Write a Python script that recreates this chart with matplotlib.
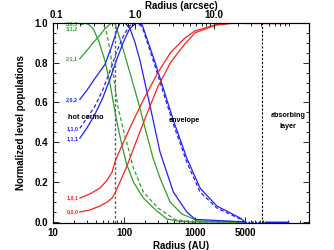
import matplotlib
matplotlib.use("Agg")
import matplotlib.pyplot as plt
import numpy as np
from matplotlib.ticker import FixedLocator, NullFormatter, MultipleLocator

plt.rcParams['font.family'] = ['Liberation Sans', 'DejaVu Sans']
plt.rcParams['font.weight'] = 'bold'

# ---- data (radius in AU, normalized population) ----
g303_r = [24, 30, 37, 44, 54, 64, 75, 83, 93, 109, 136, 187, 289, 400, 600, 1000, 5000]
g303_y = [1.0, 1.0, 0.97, 0.91, 0.81, 0.69, 0.55, 0.47, 0.39, 0.29, 0.20, 0.12, 0.055, 0.015, 0.003, 0.0, 0.0]

g312_r = [24, 40, 46, 52, 57, 64, 72, 82, 97, 109, 136, 187, 300, 400, 520, 1000, 5000]
g312_y = [0.99, 1.0, 1.0, 0.99, 0.95, 0.86, 0.72, 0.58, 0.47, 0.40, 0.27, 0.15, 0.07, 0.04, 0.012, 0.0, 0.0]

g211_r = [24, 30, 37, 44, 54, 67, 75, 93, 128, 168, 198, 256, 321, 444, 650, 1100, 5000]
g211_y = [0.82, 0.86, 0.90, 0.93, 0.97, 1.0, 0.995, 0.89, 0.72, 0.57, 0.47, 0.32, 0.22, 0.10, 0.04, 0.005, 0.0]

b202_r = [24, 30, 39, 54, 67, 79, 88, 103, 122, 143, 168, 233, 321, 494, 762, 1000, 5000]
b202_y = [0.615, 0.66, 0.72, 0.79, 0.88, 0.96, 1.0, 1.0, 0.97, 0.90, 0.81, 0.58, 0.35, 0.15, 0.05, 0.013, 0.0]

b110_r = [24, 30, 39, 50, 64, 80, 100, 120, 150, 180, 274, 494, 762, 1172, 2011, 4270, 5000]
b110_y = [0.47, 0.52, 0.58, 0.66, 0.76, 0.86, 0.94, 0.985, 1.0, 0.98, 0.78, 0.49, 0.30, 0.15, 0.07, 0.015, 0.0]

b111_r = [24, 30, 39, 50, 64, 80, 100, 120, 150, 180, 274, 494, 762, 1172, 2011, 4270, 5000]
b111_y = [0.42, 0.47, 0.54, 0.62, 0.72, 0.82, 0.91, 0.97, 1.0, 0.99, 0.80, 0.51, 0.32, 0.17, 0.08, 0.02, 0.0]

r101_r = [24, 33, 46, 58, 68, 76, 90, 110, 140, 198, 300, 450, 700, 1000, 2000, 4000, 5000]
r101_y = [0.12, 0.14, 0.17, 0.21, 0.25, 0.31, 0.37, 0.44, 0.52, 0.63, 0.75, 0.85, 0.92, 0.96, 0.99, 1.0, 1.0]

r000_r = [24, 33, 46, 58, 68, 76, 90, 110, 140, 198, 300, 450, 700, 1000, 2000, 4000, 5000]
r000_y = [0.05, 0.06, 0.08, 0.10, 0.12, 0.15, 0.21, 0.28, 0.38, 0.52, 0.68, 0.80, 0.89, 0.95, 0.99, 1.0, 1.0]

labels = ["3,0,3", "3,1,2", "2,1,1", "2,0,2", "1,1,0", "1,1,1", "1,0,1", "0,0,0"]
label_y = [0.995, 0.97, 0.82, 0.615, 0.47, 0.42, 0.12, 0.05]

gap_r = [5000, 8800]
layer_r = [9600, 20000]
hot_corino_edge = 75
absorb_edge = 8800

xticks = [10, 100, 1000, 5000]
xticklabels = ["10", "100", "1000", "5000"]
top_ticks = [0.1, 1.0, 10.0]
top_ticklabels = ["0.1", "1.0", "10.0"]
yticks = [0.0, 0.2, 0.4, 0.6, 0.8, 1.0]

GREEN = "#2ca02c"
BLUE = "#1f1fff"
RED = "#ff2020"

curves = [
    (g303_r, g303_y, GREEN, "-"),
    (g312_r, g312_y, GREEN, "--"),
    (g211_r, g211_y, GREEN, "-"),
    (b202_r, b202_y, BLUE, "-"),
    (b110_r, b110_y, BLUE, "--"),
    (b111_r, b111_y, BLUE, "-"),
    (r101_r, r101_y, RED, "-"),
    (r000_r, r000_y, RED, "-"),
]

fig = plt.figure(figsize=(3.34, 2.5), dpi=100)
ax = fig.add_axes([0.158, 0.109, 0.768, 0.800])

for (r, y, c, ls), lab, ly in zip(curves, labels, label_y):
    if ls == "--":
        ax.plot(r, y, color=c, lw=0.9, ls=(0, (3, 2)))
    else:
        ax.plot(r, y, color=c, lw=0.9, ls="-")
    ax.plot(gap_r, [y[-1], y[-1]], color=c, ls=":", lw=0.9)
    ax.plot(layer_r, [y[-1], y[-1]], color=c, ls="-", lw=0.9)
    ax.text(r[0] * 0.95, ly, lab, color=c, fontsize=3.9, fontweight="bold",
            ha="right", va="center")

ax.axvline(hot_corino_edge, color="0.4", ls=(0, (2, 1.5)), lw=1.0)
ax.axvline(absorb_edge, color="black", ls=(0, (2, 1.5)), lw=0.8)

tk = dict(fontsize=5.2, fontweight="bold", ha="center", va="center")
ax.text(29, 0.525, "hot corino", **tk)
ax.text(700, 0.51, "envelope", **tk)
ax.text(20000, 0.535, "absorbing", **tk)
ax.text(20000, 0.48, "layer", **tk)

ax.set_xscale("log")
ax.set_xlim(10, 40000)
ax.set_ylim(-0.004, 1.0)
ax.xaxis.set_major_locator(FixedLocator(xticks))
ax.set_xticklabels(xticklabels)
ax.xaxis.set_minor_locator(FixedLocator([k * 10 ** e for e in range(1, 5) for k in range(2, 10)]))
ax.xaxis.set_minor_formatter(NullFormatter())
ax.set_yticks(yticks)
ax.set_yticklabels([f"{v:.1f}" for v in yticks])
ax.yaxis.set_minor_locator(MultipleLocator(0.05))
ax.tick_params(which="both", direction="in", top=False, right=True, labelsize=7, width=0.6)
ax.tick_params(which="major", length=4)
ax.tick_params(which="minor", length=2)
ax.tick_params(axis="x", pad=4)
for lab in ax.get_xticklabels() + ax.get_yticklabels():
    lab.set_fontweight("bold")
ax.set_xlabel("Radius (AU)", fontsize=7, fontweight="bold", labelpad=2)
ax.set_ylabel("Normalized level populations", fontsize=7, fontweight="bold", labelpad=6)

ax2 = ax.twiny()
ax2.set_xscale("log")
ax2.set_xlim(0.089, 164)
ax2.xaxis.set_major_locator(FixedLocator(top_ticks))
ax2.set_xticklabels(top_ticklabels)
ax2.xaxis.set_minor_locator(FixedLocator([k * 10 ** e for e in range(-2, 3) for k in range(2, 10)]))
ax2.xaxis.set_minor_formatter(NullFormatter())
ax2.tick_params(which="both", direction="in", labelsize=7, width=0.6, pad=2)
ax2.tick_params(which="major", length=4)
ax2.tick_params(which="minor", length=2)
for lab in ax2.get_xticklabels():
    lab.set_fontweight("bold")
ax2.set_xlabel("Radius (arcsec)", fontsize=7, fontweight="bold", labelpad=1)

for sp in list(ax.spines.values()) + list(ax2.spines.values()):
    sp.set_linewidth(0.8)

fig.savefig("out.png", dpi=100)
